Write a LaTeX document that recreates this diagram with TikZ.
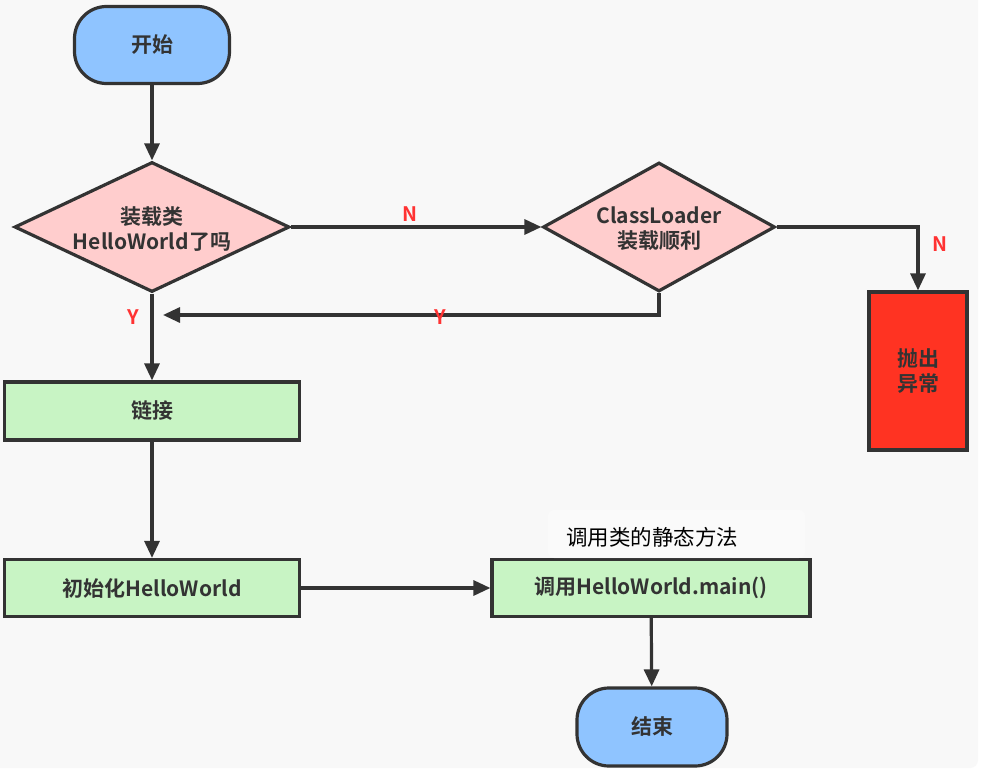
\documentclass[tikz,border=0pt]{standalone}
\usepackage{fontspec}
\setmainfont{Noto Sans CJK SC}[BoldFont={Noto Sans CJK SC Bold}]
\usetikzlibrary{shapes.geometric,arrows.meta}
\definecolor{bg}{RGB}{248,248,248}
\definecolor{lineC}{RGB}{51,51,51}
\definecolor{blueF}{RGB}{143,196,255}
\definecolor{pinkF}{RGB}{255,205,205}
\definecolor{greenF}{RGB}{200,244,196}
\definecolor{redF}{RGB}{255,51,34}
\definecolor{lblred}{RGB}{255,51,51}
\definecolor{txt}{RGB}{51,51,51}
\tikzset{
  base/.style={draw=lineC, line width=3.2pt, text=txt, font=\bfseries\fontsize{21}{25}\selectfont, align=center, inner sep=0pt},
  term/.style={base, fill=blueF, rounded corners=32pt},
  decide/.style={base, diamond, fill=pinkF},
  dtext/.style={text=txt, font=\bfseries\fontsize{21}{25}\selectfont, align=center, inner sep=0pt},
  procbox/.style={base, rectangle, fill=greenF},
  errbox/.style={base, rectangle, fill=redF},
  conn/.style={draw=lineC, line width=3.2pt, -{Triangle[length=17pt,width=15pt]}},
  yn/.style={text=lblred, font=\bfseries\fontsize{20}{24}\selectfont, inner sep=0pt},
}
\begin{document}
\begin{tikzpicture}[x=1pt,y=-1pt]
\useasboundingbox (0,0) rectangle (986,776);
\fill[white] (0,0) rectangle (986,776);
\fill[bg, rounded corners=8pt] (-10,-10) rectangle (978,768);

\node[term, minimum width=155pt, minimum height=77pt] (start) at (152,45) {开始};
\node[decide, minimum width=275pt, minimum height=130pt] (d1) at (152,227) {};
\node[dtext] (d1t) at (152,229) {装载类\\HelloWorld了吗};
\node[decide, minimum width=232pt, minimum height=129pt] (d2) at (659,227) {};
\node[dtext] (d2t) at (659,229) {ClassLoader\\装载顺利};
\node[errbox, minimum width=98pt, minimum height=158pt] (err) at (918,371) {抛出\\异常};
\node[procbox, minimum width=295pt, minimum height=58pt] (link) at (152,411) {链接};
\node[procbox, minimum width=295pt, minimum height=57pt] (init) at (152,588) {初始化HelloWorld};
\node[procbox, minimum width=318pt, minimum height=57pt] (call) at (651,588) {调用HelloWorld.main()};
\node[term, minimum width=150pt, minimum height=78pt] (end) at (652,727) {结束};

\fill[white, opacity=0.3, rounded corners=6pt] (548,510) rectangle (805,558);
\node[text=black, font=\fontsize{21.5}{25}\selectfont, inner sep=0pt] (note) at (652,537) {调用类的静态方法};

\coordinate (yjoin) at (163,315);

\draw[conn] (start) -- (d1);
\draw[conn] (d1.east) -- (d2.west);
\draw[conn] (d2.east) -| (err.north);
\draw[conn] (d2.south) |- (yjoin);
\draw[conn] (d1.south) -- (link.north);
\draw[conn] (link) -- (init);
\draw[conn] (init) -- (call);
\draw[conn] (call) -- (end);

\node[yn] (n1) at (410,214) {N};
\node[yn] (n2) at (940,244) {N};
\node[yn] (y1) at (440,317) {Y};
\node[yn] (y2) at (133,317) {Y};
\end{tikzpicture}
\end{document}
